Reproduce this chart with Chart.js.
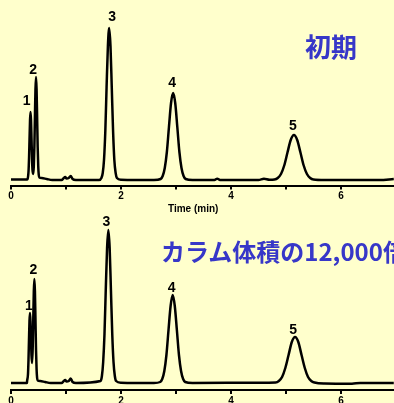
<!DOCTYPE html>
<html>
<head>
<meta charset="utf-8">
<script src="https://cdn.jsdelivr.net/npm/chart.js@4/dist/chart.umd.min.js"></script>
<style>
  html, body { margin: 0; padding: 0; }
  body { width: 394px; height: 403px; overflow: hidden; background: #FFFFCC; position: relative; }
  canvas { position: absolute; left: 0; }
  #c1 { top: 0; }
  #c2 { top: 200px; }
  .note { position: absolute; white-space: nowrap; color: #3737C8; font-family: "Noto Sans CJK JP", sans-serif; font-weight: bold; }
  .axis-title { position: absolute; white-space: nowrap; color: #000; font: bold 10px Arial, "Liberation Sans", sans-serif; line-height: 12px; }
</style>
</head>
<body>
<canvas id="c1" width="394" height="215"></canvas>
<canvas id="c2" width="394" height="203"></canvas>
<div class="note" style="left:305px; top:33px; font-size:26px; line-height:26px;">初期</div>
<div class="note" style="left:161px; top:239px; font-size:24px; line-height:24px;">カラム体積の12,000倍</div>
<div class="axis-title" style="left:168px; top:203px;">Time (min)</div>
<script>
// 保持時間 (min) と検出器応答
const topTime = [0, 0.20, 0.29, 0.301, 0.319, 0.328, 0.337, 0.346, 0.355, 0.364, 0.373, 0.382, 0.391, 0.405,
  0.415, 0.425, 0.435, 0.445, 0.455, 0.465, 0.475, 0.485, 0.495, 0.505, 0.515, 0.56, 0.65, 0.75,
  0.92, 0.96, 0.985, 1.01, 1.05, 1.085, 1.12, 1.18, 1.60,
  1.644, 1.668, 1.691, 1.715, 1.738, 1.762, 1.785, 1.809, 1.832, 1.856, 1.879, 1.903, 1.926, 2.0, 2.6,
  2.72, 2.758, 2.796, 2.834, 2.872, 2.91, 2.948, 2.986, 3.024, 3.062, 3.10, 3.138, 3.176, 3.3,
  3.7, 3.75, 3.8, 4.5, 4.6, 4.7,
  4.791, 4.85, 4.909, 4.968, 5.027, 5.086, 5.145, 5.204, 5.263, 5.322, 5.381, 5.44, 5.499, 5.7, 6.7, 6.96];
const topSignal = [0.5, 0.5, 0.5, 1, 9, 22, 41, 60, 68, 60, 41, 22, 10, 6,
  14, 33, 63, 91, 103, 91, 63, 33, 14, 5, 2.5, 2, 1, 0,
  0, 2, 3, 1.5, 2, 4, 1, 0, 0,
  2, 7, 20, 49, 93, 134, 152, 134, 93, 49, 20, 7, 2, 0.3, 0,
  1, 4, 12, 28, 53, 77, 87, 77, 53, 28, 12, 4, 1, 0,
  0, 1.3, 0, 0, 1.2, 0.2,
  0.5, 2, 6, 14.5, 27.5, 40, 45, 40, 27.5, 14.5, 6, 2, 0.5, 0, 0, 1];

const bottomTime = [0, 0.29, 0.291, 0.309, 0.318, 0.327, 0.336, 0.345, 0.354, 0.363, 0.372, 0.384,
  0.395, 0.405, 0.415, 0.425, 0.435, 0.445, 0.455, 0.465, 0.475, 0.485, 0.53, 0.62, 0.72,
  0.92, 0.96, 0.985, 1.01, 1.05, 1.085, 1.12, 1.18,
  1.629, 1.653, 1.676, 1.70, 1.723, 1.747, 1.77, 1.794, 1.817, 1.841, 1.864, 1.888, 1.911, 2.0, 2.6,
  2.712, 2.75, 2.788, 2.826, 2.864, 2.902, 2.94, 2.978, 3.016, 3.054, 3.092, 3.13, 3.168, 3.3, 4.5,
  4.811, 4.87, 4.929, 4.988, 5.047, 5.106, 5.165, 5.224, 5.283, 5.342, 5.401, 5.46, 5.519,
  5.7, 6.2, 6.35, 6.96];
const bottomSignal = [0, 0, 1, 9, 23, 43, 62, 70, 62, 45, 28, 20,
  36, 64, 92, 104, 92, 63, 33, 14, 5, 2.5, 2, 1, 0,
  0, 2, 3, 1.5, 2, 4.5, 1, 0,
  2, 7, 21, 49, 93, 135, 153, 135, 93, 49, 21, 7, 2, 0.3, 0,
  1, 4, 12, 28, 53, 77, 88, 77, 53, 28, 12, 4, 1, 0, 0.3,
  0.5, 2, 6, 15, 28, 41, 46, 41, 28, 15, 6, 2, 0.5,
  -0.5, -0.7, 0, 0];

const peakLabels = ['1', '2', '3', '4', '5'];
const topPeakTimes = [0.355, 0.455, 1.785, 2.948, 5.145];
const topPeakHeights = [68, 103, 152, 87, 45];
const bottomPeakTimes = [0.345, 0.425, 1.77, 2.94, 5.165];
const bottomPeakHeights = [70, 104, 153, 88, 46];

const tickValues = [0, 1, 2, 3, 4, 5, 6];
const tickLabels = ['0', '', '2', '', '4', '', '6'];

const peakLabelPlugin = {
  id: 'peakLabels',
  afterDatasetsDraw(chart, args, opts) {
    const ctx = chart.ctx;
    const xs = chart.scales.x, ys = chart.scales.y;
    ctx.save();
    ctx.fillStyle = '#000';
    ctx.font = 'bold 14px Arial, "Liberation Sans", sans-serif';
    ctx.textAlign = 'center';
    ctx.textBaseline = 'middle';
    opts.times.forEach((t, i) => {
      const x = xs.getPixelForValue(t) + opts.dx[i];
      const y = ys.getPixelForValue(opts.heights[i]) + opts.dy[i];
      ctx.fillText(peakLabels[i], x, y);
    });
    ctx.restore();
  }
};

function makeChart(id, times, signal, yMin, yMax, axisHeight, labelOpts) {
  return new Chart(document.getElementById(id), {
    type: 'line',
    data: {
      datasets: [{
        data: times.map((t, i) => ({ x: t, y: signal[i] })),
        borderColor: '#000',
        borderWidth: 2.5,
        pointRadius: 0,
        cubicInterpolationMode: 'monotone',
        fill: false
      }]
    },
    options: {
      responsive: false,
      animation: false,
      devicePixelRatio: 1,
      layout: { padding: { left: 11, right: 0, top: 0, bottom: 0 } },
      plugins: {
        legend: { display: false },
        tooltip: { enabled: false },
        peakLabels: labelOpts
      },
      scales: {
        x: {
          type: 'linear',
          min: 0,
          max: 6.964,
          afterBuildTicks: (scale) => { scale.ticks = tickValues.map(v => ({ value: v })); },
          afterFit: (scale) => { scale.height = axisHeight; },
          ticks: {
            autoSkip: false,
            maxRotation: 0,
            padding: 1,
            color: '#000',
            font: { family: 'Arial, "Liberation Sans", sans-serif', size: 10, weight: 'bold' },
            callback: (v) => tickLabels[tickValues.indexOf(v)]
          },
          grid: { drawOnChartArea: false, drawTicks: true, tickLength: 4, color: '#000', lineWidth: 2 },
          border: { display: true, color: '#000', width: 2 }
        },
        y: { display: false, min: yMin, max: yMax }
      }
    },
    plugins: [peakLabelPlugin]
  });
}

makeChart('c1', topTime, topSignal, -5.5, 180, 29.5, {
  times: topPeakTimes, heights: topPeakHeights,
  dx: [-4, -3, 3, -1, -1], dy: [-11, -7, -11, -10, -9]
});
makeChart('c2', bottomTime, bottomSignal, -7, 183, 13, {
  times: bottomPeakTimes, heights: bottomPeakHeights,
  dx: [-1, -1, -2, -1, -2], dy: [-7, -9, -8, -7, -7]
});
</script>
</body>
</html>
